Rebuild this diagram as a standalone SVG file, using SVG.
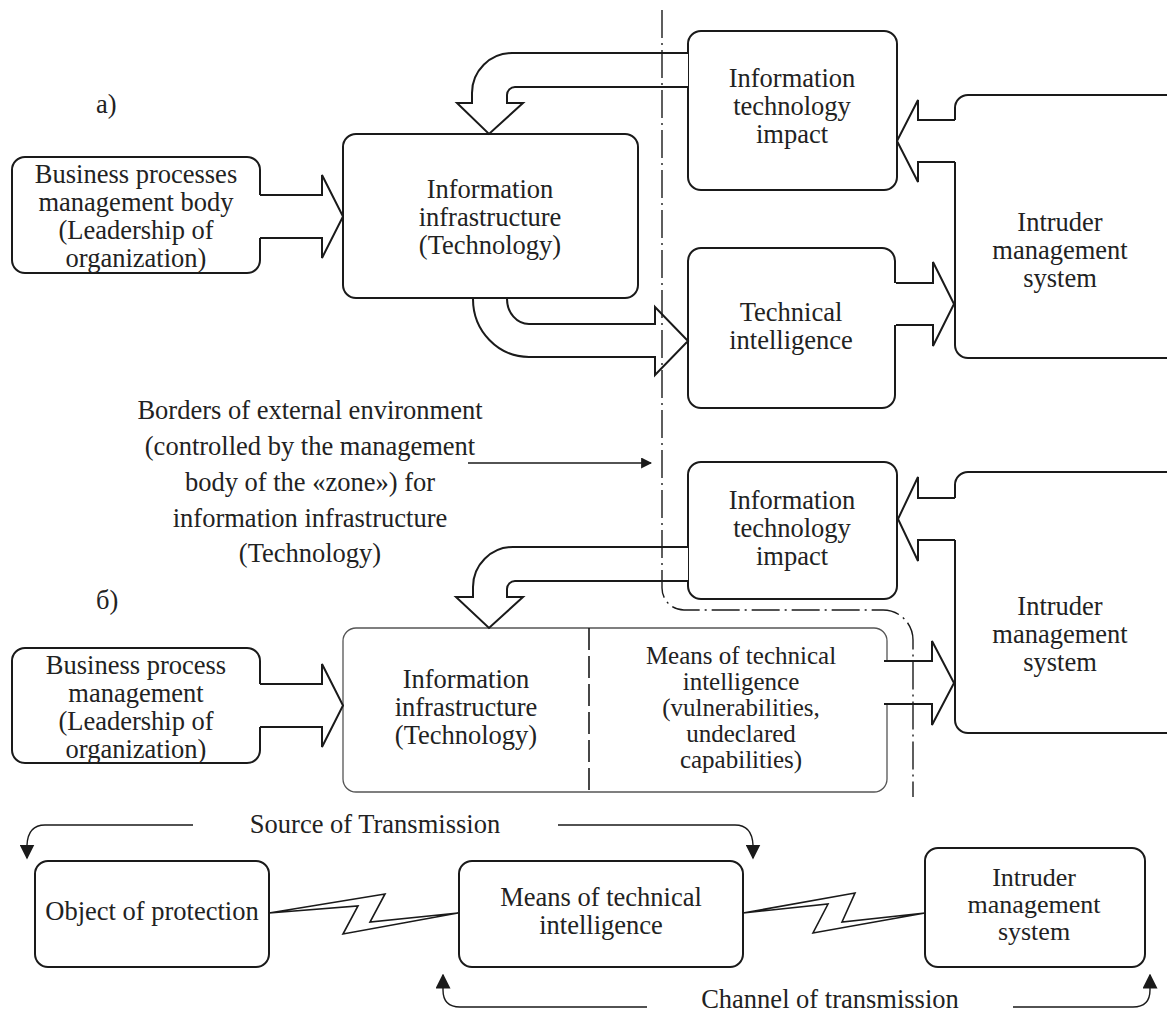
<svg xmlns="http://www.w3.org/2000/svg" width="1167" height="1015" viewBox="0 0 1167 1015">
  <style>
    .box { fill: #fff; stroke: #1a1a1a; stroke-width: 2; }
    .thin { fill: #fff; stroke: #555; stroke-width: 1.3; }
    .fill { fill: #fff; stroke: none; }
    .edge { fill: none; stroke: #1a1a1a; stroke-width: 2; stroke-linejoin: miter; }
    .thinline { fill: none; stroke: #1a1a1a; stroke-width: 1.4; }
    .border { fill: none; stroke: #1a1a1a; stroke-width: 1.4; stroke-dasharray: 28 5 2 5; }
    .split { fill: none; stroke: #1a1a1a; stroke-width: 1.6; stroke-dasharray: 22 6; }
    .bolt { fill: #fff; stroke: #1a1a1a; stroke-width: 1.6; stroke-linejoin: miter; }
    text { font-family: "Liberation Serif", "Times New Roman", serif; font-size: 26.5px; fill: #222; text-anchor: middle; }
    .lbl { text-anchor: start; }
    .small { font-size: 25px; }
    .mid { font-size: 26px; }
  </style>
  <defs>
    <marker id="tip" viewBox="0 0 10 10" refX="9" refY="5" markerWidth="11" markerHeight="11" markerUnits="userSpaceOnUse" orient="auto">
      <path d="M0,0 L10,5 L0,10 Z" fill="#1a1a1a"/>
    </marker>
    <marker id="tipBig" viewBox="0 0 10 10" refX="9" refY="5" markerWidth="15" markerHeight="15" markerUnits="userSpaceOnUse" orient="auto">
      <path d="M0,0 L10,5 L0,10 Z" fill="#1a1a1a"/>
    </marker>
  </defs>

  <!-- Section a -->
  <text class="lbl" x="96" y="113">а)</text>

  <g id="biz-top">
    <rect class="box" x="12" y="157" width="248" height="116" rx="13"/>
    <text x="136" y="183">Business processes</text>
    <text x="136" y="211">management body</text>
    <text x="136" y="239">(Leadership of</text>
    <text x="136" y="267">organization)</text>
  </g>

  <g id="infra-top">
    <rect class="box" x="343" y="134" width="295" height="164" rx="13"/>
    <text x="490" y="198">Information</text>
    <text x="490" y="226">infrastructure</text>
    <text x="490" y="254">(Technology)</text>
  </g>

  <g id="impact-top">
    <rect class="box" x="688" y="31" width="209" height="159" rx="13"/>
    <text x="792" y="87">Information</text>
    <text x="792" y="115">technology</text>
    <text x="792" y="143">impact</text>
  </g>

  <g id="intel-top">
    <rect class="box" x="688" y="248" width="207" height="160" rx="13"/>
    <text x="791" y="321">Technical</text>
    <text x="791" y="349">intelligence</text>
  </g>

  <g id="intruder-top">
    <rect class="box" x="955" y="95" width="230" height="263" rx="13"/>
    <text x="1060" y="231">Intruder</text>
    <text x="1060" y="259">management</text>
    <text x="1060" y="287">system</text>
  </g>

  <!-- Section б -->
  <text class="lbl" x="96" y="609">б)</text>

  <g id="impact-bottom">
    <rect class="box" x="688" y="462" width="209" height="137" rx="13"/>
    <text x="792" y="509">Information</text>
    <text x="792" y="537">technology</text>
    <text x="792" y="565">impact</text>
  </g>

  <g id="intruder-bottom">
    <rect class="box" x="955" y="472" width="230" height="261" rx="13"/>
    <text x="1060" y="615">Intruder</text>
    <text x="1060" y="643">management</text>
    <text x="1060" y="671">system</text>
  </g>

  <g id="biz-bottom">
    <rect class="box" x="12" y="648" width="248" height="115" rx="13"/>
    <text x="136" y="674">Business process</text>
    <text x="136" y="702">management</text>
    <text x="136" y="730">(Leadership of</text>
    <text x="136" y="758">organization)</text>
  </g>

  <g id="infra-means">
    <rect class="thin" x="343" y="628" width="544" height="164" rx="13"/>
    <line class="split" x1="589" y1="628" x2="589" y2="792"/>
    <text x="466" y="688">Information</text>
    <text x="466" y="716">infrastructure</text>
    <text x="466" y="744">(Technology)</text>
    <text class="small" x="741" y="664">Means of technical</text>
    <text class="small" x="741" y="690">intelligence</text>
    <text class="small" x="741" y="716">(vulnerabilities,</text>
    <text class="small" x="741" y="742">undeclared</text>
    <text class="small" x="741" y="768">capabilities)</text>
  </g>

  <!-- Transmission chain -->
  <g id="object">
    <rect class="box" x="35" y="861" width="234" height="106" rx="13"/>
    <text x="152" y="920">Object of protection</text>
  </g>

  <g id="means">
    <rect class="box" x="459" y="861" width="284" height="106" rx="13"/>
    <text x="601" y="906">Means of technical</text>
    <text x="601" y="934">intelligence</text>
  </g>

  <g id="intruder-chain">
    <rect class="box" x="925" y="848" width="220" height="119" rx="13"/>
    <text class="mid" x="1034" y="886">Intruder</text>
    <text class="mid" x="1034" y="913">management</text>
    <text class="mid" x="1034" y="940">system</text>
  </g>

  <g id="captions">
    <text x="375" y="833">Source of Transmission</text>
    <text x="830" y="1008">Channel of transmission</text>
    <text x="310" y="419">Borders of external environment</text>
    <text x="310" y="455">(controlled by the management</text>
    <text x="310" y="491">body of the «zone») for</text>
    <text x="310" y="527">information infrastructure</text>
    <text x="310" y="562">(Technology)</text>
  </g>

  <g id="connectors">
    <!-- block arrows: white body first, then open outline -->
    <path class="fill" d="M257,195 H322 V175 L343,216.5 L322,258 V238 H257 Z"/>
    <path class="edge" d="M260,195 H322 V175 L343,216.5 L322,258 V238 H260"/>

    <path class="fill" d="M688,53 H512 A40,40 0 0 0 472,93 V103 H457 L489,134 L523,103 H507 V95 A8,8 0 0 1 515,87 H688 Z"/>
    <path class="edge" d="M688,53 H512 A40,40 0 0 0 472,93 V103 H457 L489,134 L523,103 H507 V95 A8,8 0 0 1 515,87 H688"/>

    <path class="fill" d="M957,120 H918 V100 L897,141 L918,182 V162 H957 Z"/>
    <path class="edge" d="M955,120 H918 V100 L897,141 L918,182 V162 H955"/>

    <path class="fill" d="M473,300 A56,57 0 0 0 529,357 H655 V375 L688,341 L655,307 V324 H529 A22,24 0 0 1 507,300 Z"/>
    <path class="edge" d="M473,299 A56,58 0 0 0 529,357 H655 V375 L688,341 L655,307 V324 H529 A22,25 0 0 1 507,299"/>

    <path class="fill" d="M894,283 H933 V262 L954,304 L933,346 V325 H894 Z"/>
    <path class="edge" d="M896,283 H933 V262 L954,304 L933,346 V325 H896"/>

    <path class="fill" d="M957,498 H918 V477 L898,519 L918,561 V540 H957 Z"/>
    <path class="edge" d="M955,498 H918 V477 L898,519 L918,561 V540 H955"/>

    <path class="fill" d="M688,547 H513 A40,40 0 0 0 473,587 V597 H456 L489,628 L523,597 H507 V589 A8,8 0 0 1 515,581 H688 Z"/>
    <path class="edge" d="M688,547 H513 A40,40 0 0 0 473,587 V597 H456 L489,628 L523,597 H507 V589 A8,8 0 0 1 515,581 H688"/>

    <path class="fill" d="M257,684 H322 V664 L343,705.5 L322,747 V727 H257 Z"/>
    <path class="edge" d="M260,684 H322 V664 L343,705.5 L322,747 V727 H260"/>

    <path class="fill" d="M884,661 H932 V641 L954,683 L932,725 V704 H884 Z"/>
    <path class="edge" d="M884,661 H932 V641 L954,683 L932,725 V704 H884"/>

    <!-- zone border (dash-dot) -->
    <path class="border" d="M662,10 V588 A22,22 0 0 0 684,610 H883 A30,30 0 0 1 913,640 V797"/>

    <!-- pointer to the zone border -->
    <line class="thinline" x1="468" y1="463" x2="651" y2="463" marker-end="url(#tip)"/>

    <!-- radio links -->
    <path class="bolt" d="M269,913 L385,894 L370,922 L458,913 L343,934 L358,906 Z"/>
    <path class="bolt" d="M743,913 L855,893 L842,922 L925,913 L813,933 L828,904 Z"/>

    <!-- source / channel brackets -->
    <path class="thinline" d="M193,825 H45 Q28,825 27,845 V858" marker-end="url(#tipBig)"/>
    <path class="thinline" d="M558,825 H735 Q752,825 753,845 V858" marker-end="url(#tipBig)"/>
    <path class="thinline" d="M647,1007 H460 Q443,1007 443,990 V975" marker-end="url(#tipBig)"/>
    <path class="thinline" d="M1013,1007 H1133 Q1150,1007 1150,990 V975" marker-end="url(#tipBig)"/>
  </g>
</svg>
